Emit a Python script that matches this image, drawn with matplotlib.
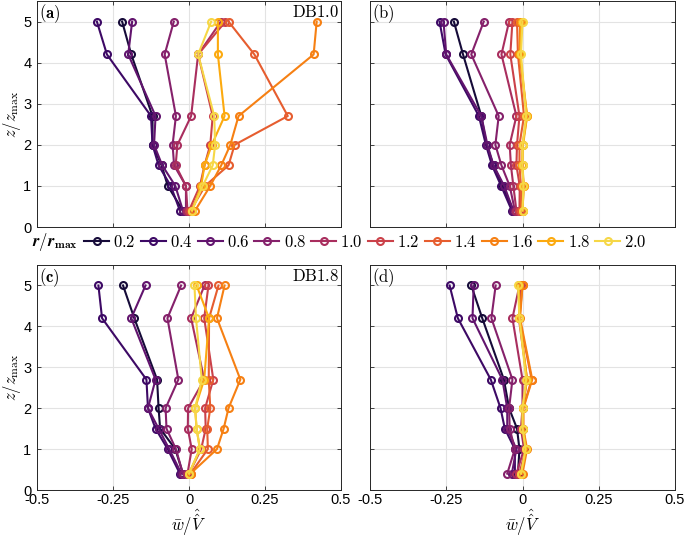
import matplotlib
matplotlib.use('Agg')
import matplotlib.pyplot as plt
import numpy as np

plt.rcParams['font.family'] = ['Liberation Sans', 'DejaVu Sans']
plt.rcParams['mathtext.fontset'] = 'cm'

# radial positions r/r_max and heights z/z_max
radii = ['0.2', '0.4', '0.6', '0.8', '1.0', '1.2', '1.4', '1.6', '1.8', '2.0']
heights = [0.4, 1.0, 1.5, 2.0, 2.7, 4.2, 5.0]

# mean vertical velocity profiles, one row per radius (bottom -> top)
w_a = [
    [-0.020, -0.070, -0.090, -0.120, -0.120, -0.190, -0.220],
    [-0.030, -0.060, -0.100, -0.120, -0.125, -0.270, -0.303],
    [-0.020, -0.045, -0.088, -0.115, -0.110, -0.200, -0.187],
    [-0.010, -0.010, -0.049, -0.054, -0.043, -0.080, -0.050],
    [-0.005, -0.010, -0.044, -0.038, 0.007, 0.030, 0.105],
    [0.000, 0.036, 0.051, 0.070, 0.078, 0.030, 0.120],
    [0.005, 0.053, 0.130, 0.150, 0.325, 0.215, 0.130],
    [0.020, 0.070, 0.106, 0.136, 0.163, 0.410, 0.420],
    [0.010, 0.040, 0.051, 0.075, 0.117, 0.095, 0.095],
    [0.010, 0.045, 0.078, 0.086, 0.083, 0.030, 0.073],
]
w_b = [
    [-0.030, -0.065, -0.095, -0.118, -0.135, -0.195, -0.225],
    [-0.035, -0.070, -0.100, -0.120, -0.143, -0.252, -0.272],
    [-0.030, -0.060, -0.095, -0.115, -0.135, -0.250, -0.259],
    [-0.025, -0.042, -0.069, -0.089, -0.078, -0.168, -0.127],
    [-0.020, -0.030, -0.038, -0.042, -0.020, -0.069, -0.044],
    [-0.010, -0.009, -0.020, -0.018, -0.010, -0.040, -0.033],
    [-0.005, -0.005, -0.010, -0.010, 0.005, -0.015, -0.018],
    [0.000, 0.004, 0.000, 0.000, 0.015, -0.010, -0.008],
    [0.000, 0.004, -0.002, 0.002, 0.015, -0.008, -0.003],
    [0.000, 0.003, 0.000, 0.000, 0.012, -0.005, 0.000],
]
w_c = [
    [-0.020, -0.045, -0.095, -0.100, -0.105, -0.180, -0.217],
    [-0.030, -0.070, -0.110, -0.135, -0.140, -0.286, -0.298],
    [-0.025, -0.065, -0.100, -0.135, -0.110, -0.190, -0.143],
    [-0.020, -0.043, -0.074, -0.077, -0.035, -0.071, -0.026],
    [-0.005, 0.009, -0.004, -0.003, 0.050, 0.007, 0.051],
    [0.000, 0.040, 0.055, 0.053, 0.080, 0.050, 0.064],
    [0.005, 0.062, 0.060, 0.070, 0.065, 0.066, 0.097],
    [0.005, 0.092, 0.114, 0.130, 0.169, 0.092, 0.117],
    [0.000, 0.036, 0.025, 0.020, 0.050, 0.066, 0.025],
    [0.000, 0.036, 0.025, 0.020, 0.042, 0.023, 0.018],
]
w_d = [
    [-0.015, -0.010, -0.018, -0.044, -0.061, -0.132, -0.168],
    [-0.025, -0.025, -0.058, -0.072, -0.104, -0.212, -0.239],
    [-0.035, -0.020, -0.050, -0.050, -0.066, -0.164, -0.160],
    [-0.050, -0.025, -0.042, -0.044, -0.033, -0.102, -0.088],
    [-0.020, 0.005, -0.005, 0.000, 0.000, -0.033, -0.010],
    [-0.010, 0.010, 0.000, 0.000, 0.015, -0.012, -0.005],
    [-0.005, 0.012, 0.002, 0.002, 0.030, -0.010, 0.000],
    [0.000, 0.015, 0.003, 0.003, 0.032, -0.008, 0.000],
    [-0.005, 0.012, 0.002, 0.000, 0.015, -0.010, -0.012],
    [-0.005, 0.010, 0.000, 0.000, 0.012, -0.010, -0.015],
]

panels = [
    ('(a)', 'DB1.0', w_a),
    ('(b)', None, w_b),
    ('(c)', 'DB1.8', w_c),
    ('(d)', None, w_d),
]
xticks = [-0.5, -0.25, 0, 0.25, 0.5]
xticklabels = ['-0.5', '-0.25', '0', '0.25', '0.5']

colors = plt.cm.inferno(np.linspace(0.1, 0.9, len(radii)))

fig = plt.figure(figsize=(6.85, 5.38), dpi=100)
W, H = 685.0, 538.0
boxes = [(37, 1, 341, 227), (370, 1, 675, 227), (37, 265, 341, 490), (370, 265, 675, 490)]

handles = []
for i, ((tag, db, data), (x0, y0, x1, y1)) in enumerate(zip(panels, boxes)):
    ax = fig.add_axes([x0 / W, 1 - y1 / H, (x1 - x0) / W, (y1 - y0) / H])
    for k, row in enumerate(data):
        h, = ax.plot(row, heights, '-o', color=colors[k], lw=1.5, ms=5,
                     mfc='none', mew=1.5, label='$' + radii[k] + '$')
        if i == 0:
            handles.append(h)
    ax.set_xlim(-0.5, 0.5)
    ax.set_ylim(0, 5.5)
    ax.set_xticks(xticks)
    ax.set_yticks(range(6))
    ax.grid(True, color='#e3e3e3', lw=0.8)
    ax.set_axisbelow(True)
    ax.tick_params(direction='in', top=True, right=True, length=3,
                   labelsize=10.5, color='#262626', width=0.6)
    ax.tick_params(axis='x', pad=2)
    ax.tick_params(axis='y', pad=4)
    for s in ax.spines.values():
        s.set_color('#262626')
        s.set_linewidth(0.7)
    if i < 2:
        ax.set_xticklabels([])
    else:
        ax.set_xticklabels(xticklabels)
        ax.set_xlabel(r'$\bar{w}/\hat{\hat{V}}$', fontsize=12, labelpad=0)
    if i % 2 == 1:
        ax.set_yticklabels([])
    else:
        ax.set_ylabel(r'$z/z_{\mathrm{max}}$', fontsize=12, labelpad=0)
    if i % 2 == 0:
        tag_txt = r'$\mathbf{' + tag + '}$'
    else:
        tag_txt = r'$\mathrm{' + tag + '}$'
    ax.text(0.005, 0.995, tag_txt, transform=ax.transAxes, ha='left', va='top', fontsize=12)
    if db:
        ax.text(0.995, 0.985, r'$\mathrm{' + db + '}$', transform=ax.transAxes,
                ha='right', va='top', fontsize=12)

fig.text(32 / W, 1 - 242 / H, r'$\boldsymbol{r/r}_{\mathbf{max}}$', fontsize=12,
         ha='left', va='center')
fig.legend(handles=handles, loc='center left', bbox_to_anchor=(84 / W, 1 - 242 / H),
           ncol=10, frameon=False, fontsize=12, handlelength=1.5,
           handletextpad=0.25, columnspacing=0.3, borderaxespad=0, borderpad=0)

fig.savefig('out.png', dpi=100)
